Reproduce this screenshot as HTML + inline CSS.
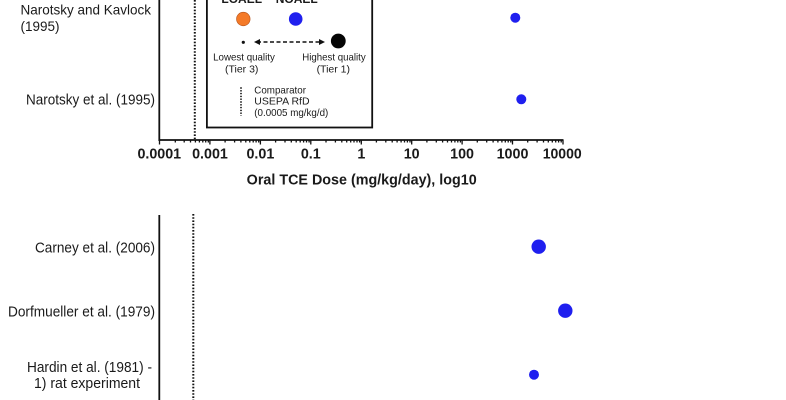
<!DOCTYPE html>
<html>
<head>
<meta charset="utf-8">
<style>
html,body{margin:0;padding:0;background:#fff;}
svg{display:block;}
text{font-family:"Liberation Sans",Arial,sans-serif;fill:#1a1a1a;}
</style>
</head>
<body>
<svg width="786" height="400" viewBox="0 0 786 400" xmlns="http://www.w3.org/2000/svg">
<rect width="786" height="400" fill="#fff"/>

<!-- TOP PANEL -->
<!-- left axis -->
<line x1="159.3" y1="0" x2="159.3" y2="141" stroke="#111" stroke-width="1.8"/>
<!-- x axis -->
<line x1="158.5" y1="140" x2="563.5" y2="140" stroke="#111" stroke-width="1.8"/>
<!-- ticks -->
<g stroke="#111" stroke-width="1.3">
<line x1="159.5" y1="140" x2="159.5" y2="144.5"/>
<line x1="175.3" y1="140" x2="175.3" y2="142.5"/><line x1="184.2" y1="140" x2="184.2" y2="142.5"/><line x1="190.5" y1="140" x2="190.5" y2="142.5"/><line x1="195.4" y1="140" x2="195.4" y2="142.5"/><line x1="199.4" y1="140" x2="199.4" y2="142.5"/><line x1="202.8" y1="140" x2="202.8" y2="142.5"/><line x1="205.7" y1="140" x2="205.7" y2="142.5"/><line x1="208.3" y1="140" x2="208.3" y2="142.5"/>
<line x1="209.9" y1="140" x2="209.9" y2="144.5"/>
<line x1="225.1" y1="140" x2="225.1" y2="142.5"/><line x1="234.6" y1="140" x2="234.6" y2="142.5"/><line x1="240.9" y1="140" x2="240.9" y2="142.5"/><line x1="245.8" y1="140" x2="245.8" y2="142.5"/><line x1="249.8" y1="140" x2="249.8" y2="142.5"/><line x1="253.2" y1="140" x2="253.2" y2="142.5"/><line x1="256.1" y1="140" x2="256.1" y2="142.5"/><line x1="258.7" y1="140" x2="258.7" y2="142.5"/>
<line x1="260.4" y1="140" x2="260.4" y2="144.5"/>
<line x1="275.6" y1="140" x2="275.6" y2="142.5"/><line x1="285.0" y1="140" x2="285.0" y2="142.5"/><line x1="291.3" y1="140" x2="291.3" y2="142.5"/><line x1="296.2" y1="140" x2="296.2" y2="142.5"/><line x1="300.2" y1="140" x2="300.2" y2="142.5"/><line x1="303.6" y1="140" x2="303.6" y2="142.5"/><line x1="306.5" y1="140" x2="306.5" y2="142.5"/><line x1="309.1" y1="140" x2="309.1" y2="142.5"/>
<line x1="310.8" y1="140" x2="310.8" y2="144.5"/>
<line x1="326.0" y1="140" x2="326.0" y2="142.5"/><line x1="335.4" y1="140" x2="335.4" y2="142.5"/><line x1="341.8" y1="140" x2="341.8" y2="142.5"/><line x1="346.7" y1="140" x2="346.7" y2="142.5"/><line x1="350.7" y1="140" x2="350.7" y2="142.5"/><line x1="354.0" y1="140" x2="354.0" y2="142.5"/><line x1="357.0" y1="140" x2="357.0" y2="142.5"/><line x1="359.6" y1="140" x2="359.6" y2="142.5"/>
<line x1="361.3" y1="140" x2="361.3" y2="144.5"/>
<line x1="376.4" y1="140" x2="376.4" y2="142.5"/><line x1="385.8" y1="140" x2="385.8" y2="142.5"/><line x1="392.2" y1="140" x2="392.2" y2="142.5"/><line x1="397.1" y1="140" x2="397.1" y2="142.5"/><line x1="401.1" y1="140" x2="401.1" y2="142.5"/><line x1="404.5" y1="140" x2="404.5" y2="142.5"/><line x1="407.4" y1="140" x2="407.4" y2="142.5"/><line x1="410.0" y1="140" x2="410.0" y2="142.5"/>
<line x1="411.7" y1="140" x2="411.7" y2="144.5"/>
<line x1="426.9" y1="140" x2="426.9" y2="142.5"/><line x1="436.3" y1="140" x2="436.3" y2="142.5"/><line x1="442.6" y1="140" x2="442.6" y2="142.5"/><line x1="447.5" y1="140" x2="447.5" y2="142.5"/><line x1="451.5" y1="140" x2="451.5" y2="142.5"/><line x1="454.9" y1="140" x2="454.9" y2="142.5"/><line x1="457.8" y1="140" x2="457.8" y2="142.5"/><line x1="460.4" y1="140" x2="460.4" y2="142.5"/>
<line x1="462.1" y1="140" x2="462.1" y2="144.5"/>
<line x1="477.3" y1="140" x2="477.3" y2="142.5"/><line x1="486.7" y1="140" x2="486.7" y2="142.5"/><line x1="493.1" y1="140" x2="493.1" y2="142.5"/><line x1="497.9" y1="140" x2="497.9" y2="142.5"/><line x1="501.9" y1="140" x2="501.9" y2="142.5"/><line x1="505.3" y1="140" x2="505.3" y2="142.5"/><line x1="508.2" y1="140" x2="508.2" y2="142.5"/><line x1="510.8" y1="140" x2="510.8" y2="142.5"/>
<line x1="512.5" y1="140" x2="512.5" y2="144.5"/>
<line x1="527.7" y1="140" x2="527.7" y2="142.5"/><line x1="537.1" y1="140" x2="537.1" y2="142.5"/><line x1="543.5" y1="140" x2="543.5" y2="142.5"/><line x1="548.3" y1="140" x2="548.3" y2="142.5"/><line x1="552.3" y1="140" x2="552.3" y2="142.5"/><line x1="555.7" y1="140" x2="555.7" y2="142.5"/><line x1="558.6" y1="140" x2="558.6" y2="142.5"/><line x1="561.2" y1="140" x2="561.2" y2="142.5"/>
<line x1="563" y1="140" x2="563" y2="144.5"/>
</g>

<!-- tick labels -->
<g font-size="14.3" font-weight="bold" text-anchor="middle">
<text x="159.3" y="158.3" textLength="43.7" lengthAdjust="spacingAndGlyphs">0.0001</text>
<text x="210" y="158.3">0.001</text>
<text x="260.4" y="158.3">0.01</text>
<text x="310.8" y="158.3">0.1</text>
<text x="361.3" y="158.3">1</text>
<text x="411.7" y="158.3">10</text>
<text x="462.1" y="158.3">100</text>
<text x="512.5" y="158.3">1000</text>
<text x="562.2" y="158.3" textLength="39" lengthAdjust="spacingAndGlyphs">10000</text>
</g>
<text x="361.7" y="184.3" font-size="14.3" font-weight="bold" text-anchor="middle" textLength="230" lengthAdjust="spacingAndGlyphs">Oral TCE Dose (mg/kg/day), log10</text>

<!-- comparator dotted line top -->
<line x1="194.8" y1="0" x2="194.8" y2="139" stroke="#111" stroke-width="2" stroke-dasharray="1.6 1.6"/>

<!-- top labels -->
<text x="20.5" y="14.3" font-size="13.6" textLength="130.5" lengthAdjust="spacingAndGlyphs">Narotsky and Kavlock</text>
<text x="20.5" y="30.8" font-size="13.6" textLength="39" lengthAdjust="spacingAndGlyphs">(1995)</text>
<text x="155" y="104.5" font-size="15" text-anchor="end" textLength="129" lengthAdjust="spacingAndGlyphs">Narotsky et al. (1995)</text>

<!-- top data -->
<circle cx="515.3" cy="17.7" r="5" fill="#1f1fef"/>
<circle cx="521.3" cy="99.3" r="5" fill="#1f1fef"/>

<!-- legend box -->
<rect x="206.9" y="-5" width="165.3" height="132.5" fill="#fff" stroke="#111" stroke-width="1.8"/>
<text x="241.7" y="3" font-size="12" font-weight="bold" text-anchor="middle">LOAEL</text>
<text x="296.7" y="3" font-size="12" font-weight="bold" text-anchor="middle">NOAEL</text>
<circle cx="243.3" cy="19" r="6.8" fill="#f47a28" stroke="#b5531a" stroke-width="0.6"/>
<circle cx="295.7" cy="19" r="6.8" fill="#2020ee"/>
<circle cx="243.3" cy="42.3" r="1.6" fill="#111"/>
<line x1="257" y1="42" x2="322" y2="42" stroke="#111" stroke-width="1.4" stroke-dasharray="4 2.5"/>
<polygon points="254,42 260,39 260,45" fill="#111"/>
<polygon points="325,42 319,39 319,45" fill="#111"/>
<circle cx="338.3" cy="41" r="7.4" fill="#050505"/>
<g font-size="10.5" text-anchor="middle">
<text x="244" y="60.4" textLength="61.7" lengthAdjust="spacingAndGlyphs">Lowest quality</text>
<text x="241.7" y="72.7">(Tier 3)</text>
<text x="334" y="60.4" textLength="63.4" lengthAdjust="spacingAndGlyphs">Highest quality</text>
<text x="333.3" y="72.7">(Tier 1)</text>
</g>
<line x1="241" y1="87.3" x2="241" y2="115.7" stroke="#111" stroke-width="1.6" stroke-dasharray="1.4 1.4"/>
<g font-size="10.5">
<text x="254.3" y="93.7" textLength="51.7" lengthAdjust="spacingAndGlyphs">Comparator</text>
<text x="254.3" y="104.4">USEPA RfD</text>
<text x="254.3" y="116" textLength="74" lengthAdjust="spacingAndGlyphs">(0.0005 mg/kg/d)</text>
</g>

<!-- BOTTOM PANEL -->
<line x1="159.3" y1="215" x2="159.3" y2="400" stroke="#111" stroke-width="1.8"/>
<line x1="193.3" y1="214" x2="193.3" y2="400" stroke="#111" stroke-width="2" stroke-dasharray="1.6 1.6"/>

<text x="155" y="252.6" font-size="15" text-anchor="end" textLength="120" lengthAdjust="spacingAndGlyphs">Carney et al. (2006)</text>
<text x="155" y="316.3" font-size="15" text-anchor="end" textLength="147" lengthAdjust="spacingAndGlyphs">Dorfmueller et al. (1979)</text>
<text x="89.5" y="372" font-size="15" text-anchor="middle" textLength="125" lengthAdjust="spacingAndGlyphs">Hardin et al. (1981) -</text>
<text x="87" y="388" font-size="15" text-anchor="middle" textLength="106" lengthAdjust="spacingAndGlyphs">1) rat experiment</text>

<circle cx="538.7" cy="246.7" r="7.2" fill="#1f1fef"/>
<circle cx="565.3" cy="310.7" r="7.2" fill="#1f1fef"/>
<circle cx="534" cy="374.7" r="5" fill="#1f1fef"/>
</svg>
</body>
</html>
